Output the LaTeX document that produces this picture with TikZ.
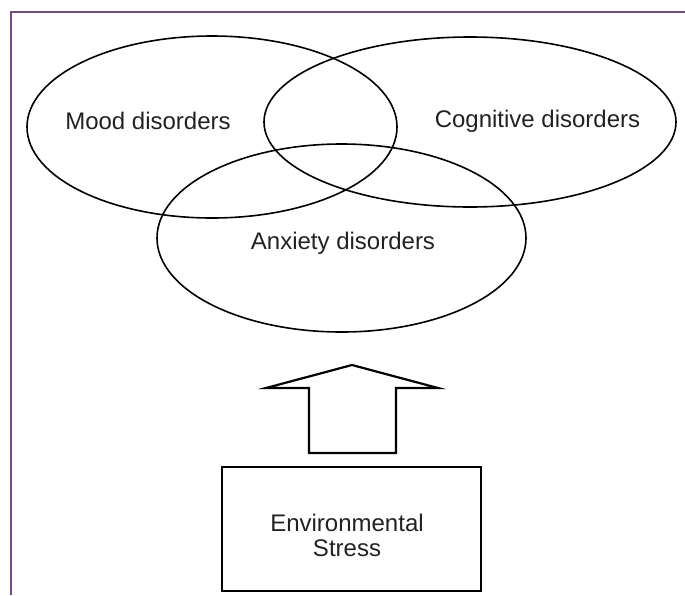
\documentclass[tikz,border=0pt]{standalone}
\usepackage{fontspec}
\setmainfont{Liberation Sans}
\usetikzlibrary{shapes.geometric}
\definecolor{framepurple}{HTML}{6E4E7E}
\definecolor{txt}{HTML}{222222}
\tikzset{
  set/.style={draw=black, line width=1.6pt, ellipse, inner sep=0pt},
  lbl/.style={text=txt, font=\fontsize{24}{25}\selectfont, inner sep=0pt, align=center},
  box/.style={draw=black, line width=2.2pt, inner sep=0pt},
  blockarrow/.style={draw=black, line width=2.2pt, line join=miter},
}
\begin{document}
\begin{tikzpicture}[x=1pt, y=-1pt]
\useasboundingbox (0,0) rectangle (685,595);
\fill[white] (0,0) rectangle (685,595);
% frame
\draw[framepurple, line width=1.6pt] (685,12) -- (11,12) -- (11,595);
% sets
\node[set, minimum width=370pt, minimum height=182pt] (mood) at (212,127) {};
\node[set, minimum width=412pt, minimum height=170pt] (cog) at (470,122) {};
\node[set, minimum width=369pt, minimum height=188pt] (anx) at (341.5,238) {};
\node[lbl] (moodt) at (148,121) {Mood disorders};
\node[lbl] (cogt) at (537.5,121) {Cognitive disorders};
\node[lbl] (anxt) at (343,243) {Anxiety disorders};
% stress box
\node[box, minimum width=259pt, minimum height=124pt] (stress) at (351.5,529) {};
\node[lbl] (stresst) at (347,535) {Environmental\\Stress};
% block arrow
\coordinate (tip) at (352,365);
\draw[blockarrow] (tip) -- (438,388) -- (396,388) -- (396,453) -- (309,453) -- (309,388) -- (266,388) -- cycle;
\end{tikzpicture}
\end{document}
